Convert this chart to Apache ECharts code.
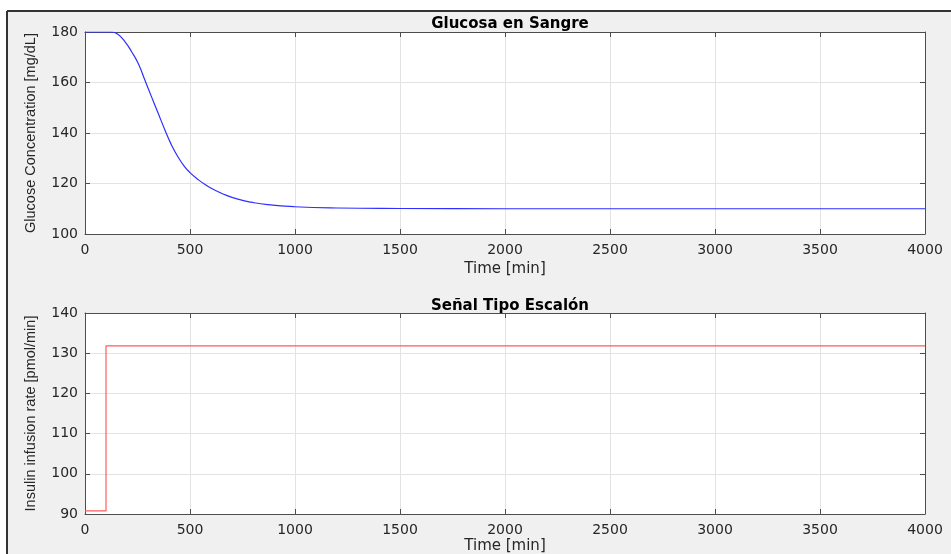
<!DOCTYPE html>
<html>
<head>
<meta charset="utf-8">
<script src="https://cdn.jsdelivr.net/npm/echarts@6/dist/echarts.min.js"></script>
<style>
  html, body { margin: 0; padding: 0; background: #fff; }
  #chart { width: 951px; height: 554px; }
</style>
</head>
<body>
<div id="chart"></div>
<script>
// glucose response [min] -> [mg/dL]
const glucoseTime = [0, 60, 100, 127, 158, 190, 222, 253, 285, 316, 348, 380, 411, 443, 475, 500, 538, 570, 617, 665, 728, 791, 870, 997, 1200, 1500, 2000, 3000, 4000]
const glucoseValue = [180, 180, 180, 180, 179, 176.2, 172.2, 167.6, 161.0, 154.5, 147.9, 141.3, 135.4, 130.5, 126.6, 124.3, 121.6, 119.7, 117.4, 115.6, 113.8, 112.6, 111.6, 110.8, 110.3, 110.1, 110, 110, 110]

// step input [min] -> [pmol/min]
const insulinTime = [0, 100, 100, 4000]
const insulinRate = [90.8, 90.8, 131.8, 131.8]

const chart = echarts.init(document.getElementById('chart'))

const labelFont = { fontFamily: 'DejaVu Sans', fontSize: 14, color: '#262626' }
const axisColor = '#4d4d4d'

function xAxisBottom(gridIndex, nameGap) {
  return {
    type: 'value', gridIndex, min: 0, max: 4000, interval: 500,
    position: 'bottom',
    name: 'Time [min]',
    nameLocation: 'middle', nameGap,
    nameTextStyle: { fontFamily: 'DejaVu Sans', fontSize: 15, color: '#262626' },
    axisLine: { show: true, onZero: false, lineStyle: { color: axisColor, width: 1 } },
    axisTick: { show: true, inside: true, length: 5, lineStyle: { color: axisColor } },
    axisLabel: Object.assign({ margin: 9, formatter: v => String(v) }, labelFont),
    splitLine: { show: true, lineStyle: { color: '#e3e3e3', width: 1 } }
  }
}
function xAxisTop(gridIndex) {
  return {
    type: 'value', gridIndex, min: 0, max: 4000, interval: 500,
    position: 'top',
    axisLine: { show: true, onZero: false, lineStyle: { color: axisColor, width: 1 } },
    axisTick: { show: true, inside: true, length: 5, lineStyle: { color: axisColor } },
    axisLabel: { show: false },
    splitLine: { show: false }
  }
}
function yAxisLeft(gridIndex, min, max, interval, name) {
  return {
    type: 'value', gridIndex, min, max, interval,
    position: 'left',
    name, nameLocation: 'middle', nameGap: 47,
    nameTextStyle: { fontFamily: 'Liberation Sans', fontSize: 14.5, color: '#262626' },
    axisLine: { show: true, onZero: false, lineStyle: { color: axisColor, width: 1 } },
    axisTick: { show: true, inside: true, length: 5, lineStyle: { color: axisColor } },
    axisLabel: Object.assign({ margin: 7 }, labelFont),
    splitLine: { show: true, lineStyle: { color: '#e3e3e3', width: 1 } }
  }
}
function yAxisRight(gridIndex, min, max, interval) {
  return {
    type: 'value', gridIndex, min, max, interval,
    position: 'right',
    axisLine: { show: true, onZero: false, lineStyle: { color: axisColor, width: 1 } },
    axisTick: { show: true, inside: true, length: 5, lineStyle: { color: axisColor } },
    axisLabel: { show: false },
    splitLine: { show: false }
  }
}

const titleStyle = { fontFamily: 'DejaVu Sans', fontSize: 15, fontWeight: 'bold', color: '#000' }

const option = {
  animation: false,
  backgroundColor: '#fff',
  graphic: [
    { type: 'rect', shape: { x: 7, y: 11, width: 944, height: 543 },
      style: { fill: '#f0f0f0' }, z: -10 },
    { type: 'line', shape: { x1: 7, y1: 11, x2: 951, y2: 11 },
      style: { stroke: '#333', lineWidth: 2 }, z: -9 },
    { type: 'line', shape: { x1: 7, y1: 11, x2: 7, y2: 554 },
      style: { stroke: '#333', lineWidth: 2 }, z: -9 }
  ],
  title: [
    { text: 'Glucosa en Sangre', left: 505, top: 12, textAlign: 'center', textStyle: titleStyle },
    { text: 'Señal Tipo Escalón', left: 505, top: 294, textAlign: 'center', textStyle: titleStyle }
  ],
  grid: [
    { left: 85, top: 32, width: 840, height: 202, show: true, backgroundColor: '#fff', borderWidth: 0, outerBoundsMode: 'none' },
    { left: 85, top: 313, width: 840, height: 201, show: true, backgroundColor: '#fff', borderWidth: 0, outerBoundsMode: 'none' }
  ],
  xAxis: [
    xAxisBottom(0, 28), xAxisTop(0),
    xAxisBottom(1, 25), xAxisTop(1)
  ],
  yAxis: [
    yAxisLeft(0, 100, 180, 20, 'Glucose Concentration [mg/dL]'), yAxisRight(0, 100, 180, 20),
    yAxisLeft(1, 90, 140, 10, 'Insulin infusion rate [pmol/min]'), yAxisRight(1, 90, 140, 10)
  ],
  series: [
    {
      name: 'Glucose', type: 'line', xAxisIndex: 0, yAxisIndex: 0,
      data: glucoseTime.map((t, i) => [t, glucoseValue[i]]),
      smooth: 0.5, showSymbol: false,
      lineStyle: { color: '#2f2fff', width: 1.2 }
    },
    {
      name: 'Insulin', type: 'line', xAxisIndex: 2, yAxisIndex: 2,
      data: insulinTime.map((t, i) => [t, insulinRate[i]]),
      showSymbol: false,
      lineStyle: { color: '#ff5a5a', width: 1.2 }
    }
  ]
}

chart.setOption(option)
</script>
</body>
</html>
